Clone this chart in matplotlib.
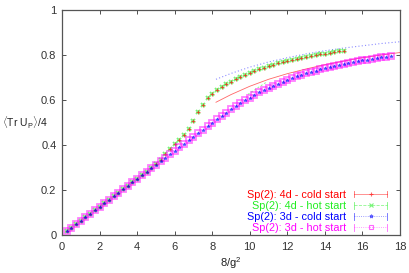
import numpy as np
import matplotlib
matplotlib.use("Agg")
import matplotlib.pyplot as plt
from matplotlib.lines import Line2D
from matplotlib.legend_handler import HandlerBase

plt.rcParams['font.family'] = ['Liberation Sans', 'DejaVu Sans']
plt.rcParams['mathtext.fontset'] = 'custom'
plt.rcParams['mathtext.rm'] = 'Liberation Sans'
plt.rcParams['mathtext.it'] = 'Liberation Sans:italic'

# ---------------- data ----------------
x3d = [0.25 * k for k in range(1, 71)]
y3d = [0.016, 0.031, 0.047, 0.062, 0.078, 0.094, 0.109, 0.125, 0.141, 0.156,
       0.172, 0.188, 0.203, 0.219, 0.234, 0.250, 0.266, 0.281, 0.297, 0.313,
       0.328, 0.344, 0.360, 0.375, 0.391, 0.406, 0.422, 0.437, 0.453, 0.468,
       0.484, 0.499, 0.514, 0.529, 0.544, 0.558, 0.572, 0.586, 0.599, 0.611,
       0.623, 0.634, 0.645, 0.655, 0.664, 0.673, 0.682, 0.690, 0.698, 0.705,
       0.712, 0.718, 0.724, 0.730, 0.736, 0.741, 0.746, 0.751, 0.756, 0.760,
       0.764, 0.768, 0.772, 0.776, 0.780, 0.783, 0.787, 0.790, 0.793, 0.797]

x4d = [0.25 * k for k in range(1, 61)]
y4d = [0.016, 0.031, 0.047, 0.062, 0.078, 0.094, 0.109, 0.125, 0.141, 0.156,
       0.172, 0.188, 0.203, 0.219, 0.234, 0.250, 0.266, 0.281, 0.297, 0.316,
       0.335, 0.360, 0.383, 0.403, 0.422, 0.445, 0.470, 0.505, 0.545, 0.580,
       0.608, 0.628, 0.645, 0.658, 0.670, 0.682, 0.693, 0.703, 0.712, 0.721,
       0.729, 0.737, 0.744, 0.751, 0.757, 0.763, 0.768, 0.773, 0.778, 0.783,
       0.787, 0.791, 0.795, 0.799, 0.803, 0.806, 0.810, 0.813, 0.816, 0.819]

# curves (no legend entries)
xc = [8.2, 9, 10, 11, 12, 13, 14, 15, 16, 17, 18]
y_red_curve = [0.590, 0.624, 0.661, 0.692, 0.717, 0.738, 0.757, 0.773, 0.788, 0.800, 0.811]
y_blue_curve = [0.692, 0.718, 0.746, 0.769, 0.788, 0.805, 0.819, 0.831, 0.841, 0.851, 0.859]
xg = [9.9, 10.4, 10.9]
y_green_curve = [0.625, 0.653, 0.680]

labels = ["Sp(2): 4d - cold start", "Sp(2): 4d - hot start",
          "Sp(2): 3d - cold start", "Sp(2): 3d - hot start"]
xticks = [0, 2, 4, 6, 8, 10, 12, 14, 16, 18]
yticks = [0, 0.2, 0.4, 0.6, 0.8, 1]
yticklabels = ["0", "0.2", "0.4", "0.6", "0.8", "1"]

RED, GREEN, BLUE, MAG = '#ff0000', '#22ee22', '#0000ff', '#ff00ff'

fig = plt.figure(figsize=(4.09, 2.73), dpi=100)
ax = fig.add_axes([62/409, 1-235/273, 338/409, 225/273])

ax.plot(xc, y_red_curve, color=RED, lw=0.6, alpha=0.6)
ax.plot(xc, y_blue_curve, color=BLUE, lw=0.8, ls=(0, (1, 2)), alpha=0.45)
ax.plot(xg, y_green_curve, color=GREEN, lw=0.7, ls=(0, (2, 2)), alpha=0.5)

ax.plot(x4d, y4d, ls='none', marker='x', ms=3.4, mew=1.3, color=GREEN, alpha=0.6)
ax.plot(x4d, y4d, ls='none', marker='+', ms=2.4, mew=0.6, color=RED, alpha=0.7)
ax.plot(x3d, y3d, ls='none', marker='s', ms=3.8, mew=1.3, mfc='none', mec=MAG, alpha=0.5)
ax.plot(x3d, y3d, ls='none', marker='*', ms=2.6, mew=0.3, color=BLUE, alpha=0.7)

ax.set_xlim(0, 18)
ax.set_ylim(0, 1)
ax.set_xticks(xticks)
ax.set_yticks(yticks)
ax.set_yticklabels(yticklabels)
ax.tick_params(direction='in', top=True, right=True, length=3, width=0.6,
               labelsize=8, colors='#333333', pad=4)
ax.tick_params(axis='x', pad=5)
for s in ax.spines.values():
    s.set_color('#555555')
    s.set_linewidth(0.9)

ax.set_xlabel("8/g$^2$", fontsize=8, labelpad=2, color='#222222')
fig.text(2/409, 1-123/273, r"$\langle$Tr U$_{\rm P}$$\rangle$/4", fontsize=7.5,
         ha='left', va='center', color='#222222')


class HandlerErr(HandlerBase):
    def create_artists(self, legend, orig_handle, xdescent, ydescent, width,
                       height, fontsize, trans):
        c = orig_handle.get_color()
        ls = orig_handle.get_linestyle()
        y = height / 2 - ydescent
        x0, x1 = -xdescent, -xdescent + width
        h = 2.5
        arts = [Line2D([x0, x1], [y, y], color=c, lw=0.6, ls=ls, alpha=0.5),
                Line2D([x0, x0], [y - h, y + h], color=c, lw=0.6, alpha=0.6),
                Line2D([x1, x1], [y - h, y + h], color=c, lw=0.6, alpha=0.6),
                Line2D([(x0 + x1) / 2], [y], marker=orig_handle.get_marker(),
                       ms=2.6, mew=0.8, mfc='none', mec=c, ls='none', alpha=0.6)]
        for a in arts:
            a.set_transform(trans)
        return arts


handles = [Line2D([], [], color=RED, ls='-', marker='+'),
           Line2D([], [], color=GREEN, ls='--', marker='x'),
           Line2D([], [], color=BLUE, ls=':', marker='*'),
           Line2D([], [], color=MAG, ls=':', marker='s')]
leg = ax.legend(handles, labels, loc='lower right', bbox_to_anchor=(0.985, -0.025),
                frameon=False, markerfirst=False, fontsize=7.8, handlelength=3.1,
                handletextpad=0.7, labelspacing=0.1, borderpad=0.2,
                alignment='right', labelcolor=[RED, GREEN, BLUE, MAG],
                handler_map={Line2D: HandlerErr()})

fig.savefig("out.png", dpi=100)
